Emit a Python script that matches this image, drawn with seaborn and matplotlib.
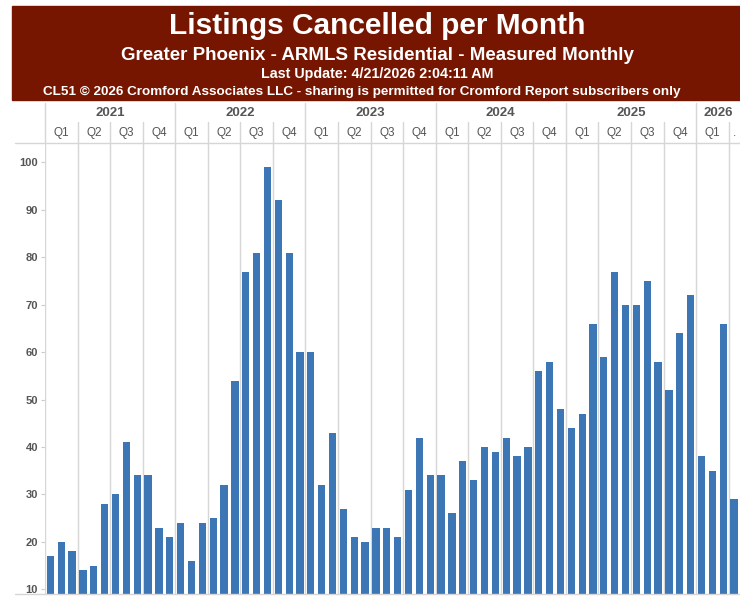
import numpy as np
import pandas as pd
import matplotlib
matplotlib.use("Agg")
import matplotlib.pyplot as plt
from matplotlib.lines import Line2D
from matplotlib.patches import Rectangle
import seaborn as sns

# monthly values, Jan 2021 .. Apr 2026
years = [2021, 2022, 2023, 2024, 2025, 2026]
cancelled = [
    17, 20, 18, 14, 15, 28, 30, 41, 34, 34, 23, 21,   # 2021
    24, 16, 24, 25, 32, 54, 77, 81, 99, 92, 81, 60,   # 2022
    60, 32, 43, 27, 21, 20, 23, 23, 21, 31, 42, 34,   # 2023
    34, 26, 37, 33, 40, 39, 42, 38, 40, 56, 58, 48,   # 2024
    44, 47, 66, 59, 77, 70, 70, 75, 58, 52, 64, 72,   # 2025
    38, 35, 66, 29,                                   # 2026
]
months = pd.date_range("2021-01-01", periods=len(cancelled), freq="MS")
month_labels = [m.strftime("%Y-%m") for m in months]
y_ticks = [10, 20, 30, 40, 50, 60, 70, 80, 90, 100]

title = "Listings Cancelled per Month"
subtitle = "Greater Phoenix - ARMLS Residential - Measured Monthly"
updated = "Last Update: 4/21/2026 2:04:11 AM"
credit = "CL51 \u00a9 2026 Cromford Associates LLC - sharing is permitted for Cromford Report subscribers only"

BAR = "#3d76b4"
HEAD = "#761500"
GRID = "#d6d6d6"
TXT = "#555555"

sns.set_style("white")
plt.rcParams["font.family"] = ["Liberation Sans", "DejaVu Sans"]

W, H = 740, 604
fig = plt.figure(figsize=(W / 100, H / 100), dpi=100)

def fx(px):
    return px / W

def fy(py):
    return 1 - py / H

# header box
fig.patches.append(Rectangle((fx(12), fy(100)), fx(740 - 12), 94 / H,
                             transform=fig.transFigure, color=HEAD, zorder=0))
cx = fx(377)
fig.text(cx, fy(34), title, ha="center", va="baseline", color="white",
         fontsize=21.5, fontweight="bold")
fig.text(cx, fy(60), subtitle, ha="center", va="baseline", color="white",
         fontsize=13.5, fontweight="bold")
fig.text(cx, fy(78), updated, ha="center", va="baseline", color="white",
         fontsize=10.3, fontweight="bold")
fig.text(cx - fx(15), fy(95), credit, ha="center", va="baseline", color="white",
         fontsize=9.7, fontweight="bold")

n = len(cancelled)
left, right, top, bottom = 45, 739.5, 143, 594

# main plot
ax = fig.add_axes([fx(left), fy(bottom), fx(right - left), (bottom - top) / H])
df = pd.DataFrame({"month": month_labels, "value": cancelled})
sns.barplot(data=df, x="month", y="value", color=BAR, saturation=1,
            width=0.67, linewidth=0, ax=ax, zorder=3)
ax.set_xlim(-0.5, n - 0.5)
ax.set_ylim(9.0, 104.1)
for k in range(0, n, 3):
    ax.axvline(k - 0.5, color=GRID, lw=1, zorder=1)
ax.set_xticks([])
ax.set_xlabel("")
ax.set_ylabel("")
ax.set_yticks(y_ticks)
ax.set_yticklabels([str(t) for t in y_ticks], fontsize=8, fontweight="bold", color=TXT)
ax.tick_params(axis="y", length=3, width=0.8, color="#cccccc", pad=2, left=True)
for s in ax.spines.values():
    s.set_visible(False)

# header rows: years and quarters
hax = fig.add_axes([fx(left), fy(top), fx(right - left), (top - 103) / H])
hax.set_xlim(-0.5, n - 0.5)
hax.set_ylim(0, 1)
hax.axis("off")
q_line_top = (top - 122) / (top - 103)
for i, yr in enumerate(years):
    start = i * 12
    count = min(12, n - start)
    hax.plot([start - 0.5, start - 0.5], [0, 1], color=GRID, lw=1, clip_on=False)
    hax.text(start - 0.5 + count / 2, 0.74, str(yr), ha="center", va="center",
             fontsize=9.5, fontweight="bold", color=TXT)
    for q in range(4):
        qs = start + q * 3
        if qs >= n:
            break
        qc = min(3, n - qs)
        if q > 0:
            hax.plot([qs - 0.5, qs - 0.5], [0, q_line_top], color=GRID, lw=1, clip_on=False)
        label = f"Q{q + 1}" if qc == 3 else "."
        hax.text(qs - 0.5 + qc / 2, 0.26, label, ha="center", va="center",
                 fontsize=8.5, color=TXT)

# horizontal rules
fig.lines.append(Line2D([fx(15), 1], [fy(top), fy(top)], transform=fig.transFigure,
                        color=GRID, lw=1))
fig.lines.append(Line2D([fx(15), 1], [fy(bottom), fy(bottom)], transform=fig.transFigure,
                        color=GRID, lw=1))

fig.savefig("out.png", dpi=100)
